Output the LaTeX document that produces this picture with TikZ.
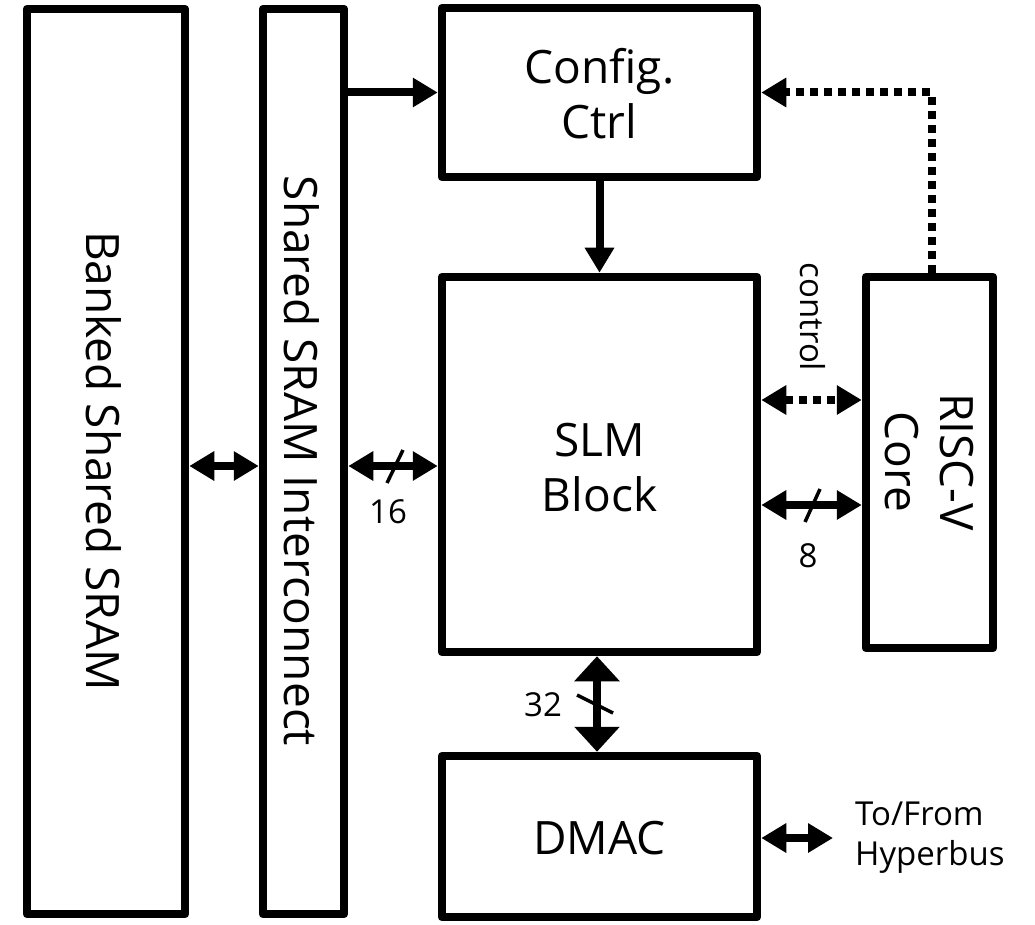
\documentclass[tikz,border=0pt]{standalone}
\usepackage{fontspec}
\setmainfont{Open Sans}
\usetikzlibrary{arrows.meta,calc}
\begin{document}
\begin{tikzpicture}[x=1pt,y=-1pt,
  blk/.style={draw, line width=8.5pt, line join=round, inner sep=0pt},
  big/.style={font=\fontsize{46pt}{55pt}\selectfont, align=center, inner sep=0pt},
  small/.style={font=\fontsize{33pt}{40pt}\selectfont, inner sep=0pt},
  onearr/.style={line width=8pt, -{Triangle[length=25pt,width=28pt]}},
  twoarr/.style={line width=8pt, {Triangle[length=25pt,width=28pt]}-{Triangle[length=25pt,width=28pt]}},
  widearr/.style={line width=8pt, {Triangle[length=25pt,width=44pt]}-{Triangle[length=25pt,width=44pt]}},
  dotline/.style={line width=8pt, dash pattern=on 8pt off 6pt},
  slash/.style={line width=3.5pt}
]
\useasboundingbox (0,0) rectangle (1035,925);
% blocks
\node[blk, minimum width=158pt, minimum height=905pt] (banked) at (106,461.5) {};
\node[blk, minimum width=81pt, minimum height=905pt] (inter) at (303.5,461.5) {};
\node[blk, minimum width=315pt, minimum height=169pt] (config) at (599.5,92.5) {};
\node[blk, minimum width=315pt, minimum height=375pt] (slm) at (599.5,464.5) {};
\node[blk, minimum width=127pt, minimum height=371pt] (risc) at (929.5,462.5) {};
\node[blk, minimum width=315pt, minimum height=161pt] (dmac) at (599.5,836.5) {};
% texts
\node[big, rotate=-90] (bankedtxt) at (104,461) {Banked Shared SRAM};
\node[big, rotate=-90] (intertxt) at (302,461) {Shared SRAM Interconnect};
\node[big] (configtxt) at (599.5,94) {Config.\\Ctrl};
\node[big] (slmtxt) at (599.5,468) {SLM\\Block};
\node[big, rotate=-90] (risctxt) at (929.5,462) {RISC-V\\Core};
\node[big] (dmactxt) at (599.5,838) {DMAC};
% level coordinates
\coordinate (ymid) at (0,466);
\coordinate (yctl) at (0,400);
\coordinate (y8) at (0,505);
\coordinate (hb) at (833,838);
% connectors
\draw[twoarr] (banked.east |- ymid) -- (inter.west |- ymid);
\draw[onearr] (inter.east |- config.west) -- (config.west);
\draw[onearr] (config.south) -- (slm.north);
\draw[dotline, -{Triangle[length=25pt,width=28pt]}] ($(risc.north)+(2.5,0)$) |- (config.east);
\draw[dotline, {Triangle[length=25pt,width=28pt]}-{Triangle[length=25pt,width=28pt]}] (slm.east |- yctl) -- (risc.west |- yctl);
\draw[twoarr] (inter.east |- ymid) -- (slm.west |- ymid);
\draw[twoarr] (slm.east |- y8) -- (risc.west |- y8);
\draw[widearr] ($(slm.south)+(-2.5,0)$) -- ($(dmac.north)+(-2.5,0)$);
\draw[twoarr] (dmac.east |- hb) -- (hb);
% bus width slashes
\draw[slash] (387,483) -- (403,450);
\draw[slash] (805,522) -- (820,489);
\draw[slash] (577,695) -- (613,713);
% labels
\node[small] (l16) at (388,512) {16};
\node[small] (l32) at (543,705) {32};
\node[small] (l8) at (808,556) {8};
\node[small, rotate=-90] (lctl) at (813,317) {control};
\node[small, anchor=west, align=left] (lhb) at (855,838) {To/From\\Hyperbus};
\end{tikzpicture}
\end{document}
